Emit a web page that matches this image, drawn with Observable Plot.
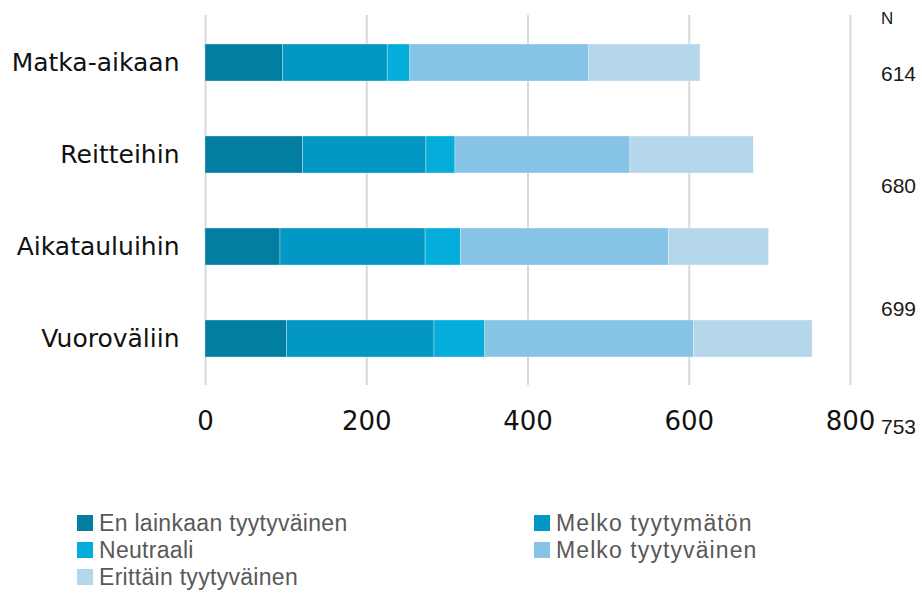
<!DOCTYPE html>
<html>
<head>
<meta charset="utf-8">
<script src="https://cdn.jsdelivr.net/npm/d3@7"></script>
<script src="https://cdn.jsdelivr.net/npm/@observablehq/plot@0.6"></script>
<style>
  html, body { margin: 0; padding: 0; background: #fff; }
  #wrap { position: relative; width: 922px; height: 593px; font-family: "DejaVu Sans", sans-serif; }
  #nhead, .nval { position: absolute; color: #1a1a1a; font-family: "Liberation Sans", Arial, sans-serif; font-size: 21px; line-height: 1; }
  #legend { position: absolute; left: 77px; top: 511px; width: 800px; display: grid; grid-template-columns: 457px 320px; row-gap: 3px; font-family: "Liberation Sans", Arial, sans-serif; }
  .li { display: flex; align-items: center; font-size: 23px; letter-spacing: 0.3px; color: #595959; line-height: 24px; white-space: nowrap; }
  .li.c2 { letter-spacing: 1.1px; }
  .sw { width: 16px; height: 16px; margin-right: 6px; flex: none; }
</style>
</head>
<body>
<div id="wrap"></div>
<script>
const categories = ["Matka-aikaan", "Reitteihin", "Aikatauluihin", "Vuoroväliin"];
const seriesNames = ["En lainkaan tyytyväinen", "Melko tyytymätön", "Neutraali", "Melko tyytyväinen", "Erittäin tyytyväinen"];
const seriesColors = ["#027ea3", "#0397c3", "#05addb", "#86c3e5", "#b4d7ec"];
const enLainkaan = [96, 121, 93, 101];
const melkoTyytymaton = [130, 153, 180, 183];
const neutraali = [28, 36, 44, 63];
const melkoTyytyvainen = [222, 217, 258, 259];
const erittain = [138, 153, 124, 147];
const nValues = [614, 680, 699, 753];
const xTicks = [0, 200, 400, 600, 800];

const seriesValues = [enLainkaan, melkoTyytymaton, neutraali, melkoTyytyvainen, erittain];
const data = [];
categories.forEach((c, i) => {
  seriesNames.forEach((s, j) => data.push({cat: c, series: s, value: seriesValues[j][i]}));
});

const chart = Plot.plot({
  width: 922,
  height: 450,
  marginLeft: 205,
  marginRight: 72,
  marginTop: 15,
  marginBottom: 65,
  style: {fontFamily: "'DejaVu Sans', sans-serif", color: "#111", background: "white"},
  x: {domain: [0, 800], ticks: xTicks, label: null},
  y: {domain: categories, label: null, paddingInner: 0.6, paddingOuter: 0.3},
  color: {domain: seriesNames, range: seriesColors},
  marks: [
    Plot.gridX(xTicks, {stroke: "#d9d9d9", strokeOpacity: 1, strokeWidth: 2}),
    Plot.barX(data, Plot.stackX({x: "value", y: "cat", fill: "series", stroke: "white", strokeWidth: 0.6, strokeOpacity: 0.5, order: null})),
    Plot.axisX({ticks: xTicks, tickSize: 0, tickPadding: 26, fontSize: 26, label: null}),
    Plot.axisY({tickSize: 0, tickPadding: 26, fontSize: 25, label: null})
  ]
});

const wrap = document.getElementById("wrap");
wrap.appendChild(chart);
chart.style.position = "absolute";
chart.style.left = "0px";
chart.style.top = "0px";

// N column (table next to chart)
const nh = document.createElement("div");
nh.id = "nhead"; nh.textContent = "N";
nh.style.left = "881px"; nh.style.top = "10px"; nh.style.fontSize = "17px";
wrap.appendChild(nh);
const nTops = [63, 175, 298, 416];
nValues.forEach((v, i) => {
  const d = document.createElement("div");
  d.className = "nval"; d.textContent = v;
  d.style.left = "881px"; d.style.top = nTops[i] + "px";
  wrap.appendChild(d);
});

// legend
const lg = document.createElement("div");
lg.id = "legend";
seriesNames.forEach((s, j) => {
  const it = document.createElement("div");
  it.className = "li" + (j % 2 === 1 ? " c2" : "");
  const sw = document.createElement("span");
  sw.className = "sw"; sw.style.background = seriesColors[j];
  it.appendChild(sw);
  it.appendChild(document.createTextNode(s));
  lg.appendChild(it);
});
wrap.appendChild(lg);
</script>
</body>
</html>
